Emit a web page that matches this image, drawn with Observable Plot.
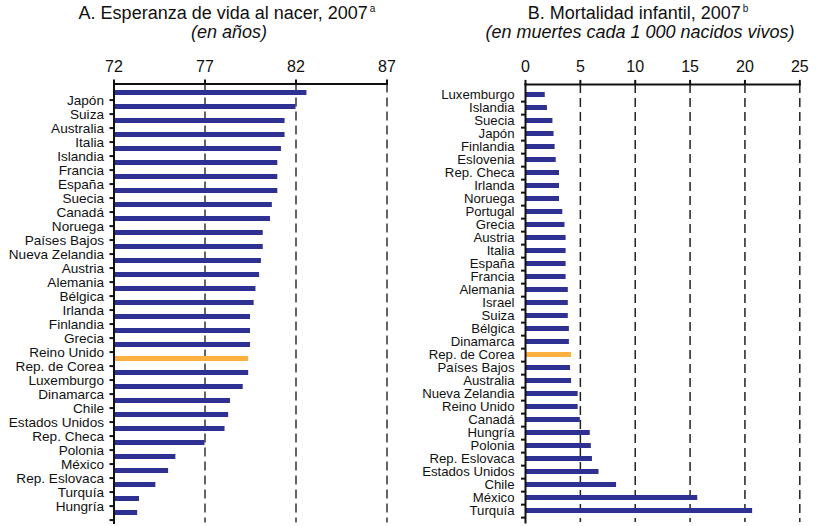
<!DOCTYPE html>
<html><head><meta charset="utf-8">
<script src="https://cdn.jsdelivr.net/npm/d3@7"></script>
<script src="https://cdn.jsdelivr.net/npm/@observablehq/plot@0.6"></script>
<style>
body{margin:0;background:#fff;font-family:"Liberation Sans",Arial,Helvetica,sans-serif;}
#root{position:relative;width:818px;height:526px;overflow:hidden;background:#fff;}
.t{position:absolute;width:420px;text-align:center;font-size:18px;line-height:18px;color:#111;white-space:nowrap;}
.t sup{font-size:10px;vertical-align:0;position:relative;top:-7px;margin-left:2px;}
.it{font-style:italic;}
.p{position:absolute;top:40px;}
</style></head><body>
<div id="root">
  <div class="t" style="left:17px;top:4px;">A. Esperanza de vida al nacer, 2007<sup>a</sup></div>
  <div class="t it" style="left:19px;top:23px;">(en años)</div>
  <div class="t" style="left:428px;top:4px;">B. Mortalidad infantil, 2007<sup>b</sup></div>
  <div class="t it" style="left:430px;top:23px;">(en muertes cada 1 000 nacidos vivos)</div>
  <div id="a1" class="p" style="left:0px;"></div>
  <div id="a2" class="p" style="left:0px;"></div>
  <div id="b1" class="p" style="left:410px;"></div>
</div>
<script>
// ---- Panel A: life expectancy at birth, 2007 (years) ----
// The reference draws 31 bars but prints only 30 country labels (labels are evenly spread).
const lifeLabels = ["Japón","Suiza","Australia","Italia","Islandia","Francia","España","Suecia","Canadá","Noruega","Países Bajos","Nueva Zelandia","Austria","Alemania","Bélgica","Irlanda","Finlandia","Grecia","Reino Unido","Rep. de Corea","Luxemburgo","Dinamarca","Chile","Estados Unidos","Rep. Checa","Polonia","México","Rep. Eslovaca","Turquía","Hungría"];
const lifeValues = [82.6,82.0,81.4,81.4,81.2,81.0,81.0,81.0,80.7,80.6,80.2,80.2,80.1,80.0,79.8,79.7,79.5,79.5,79.5,79.4,79.4,79.1,78.4,78.3,78.1,77.0,75.4,75.0,74.3,73.4,73.3];
const lifeHighlight = [19];
const lifeTicks = [72,77,82,87];

// ---- Panel B: infant mortality, 2007 (deaths per 1 000 live births) ----
const mortCountries = ["Luxemburgo","Islandia","Suecia","Japón","Finlandia","Eslovenia","Rep. Checa","Irlanda","Noruega","Portugal","Grecia","Austria","Italia","España","Francia","Alemania","Israel","Suiza","Bélgica","Dinamarca","Rep. de Corea","Países Bajos","Australia","Nueva Zelandia","Reino Unido","Canadá","Hungría","Polonia","Rep. Eslovaca","Estados Unidos","Chile","México","Turquía"];
const mortValues = [1.8,2.0,2.5,2.6,2.7,2.8,3.1,3.1,3.1,3.4,3.6,3.7,3.7,3.7,3.7,3.9,3.9,3.9,4.0,4.0,4.2,4.1,4.2,4.8,4.8,5.0,5.9,6.0,6.1,6.7,8.3,15.7,20.7];
const mortHighlight = ["Rep. de Corea"];
const mortTicks = [0,5,10,15,20,25];

const navy = "#2e3192", orange = "#fbb040";
const font = '"Liberation Sans", Arial, Helvetica, sans-serif';
const baseStyle = {fontFamily: font, color: "#111", background: "transparent", overflow: "visible"};

// Panel A geometry
const A = {width: 400, height: 486, marginTop: 43.5, marginBottom: 3.4, marginLeft: 113.5, marginRight: 13.5};
const lifeData = lifeValues.map((v, i) => ({i, value: v, fill: lifeHighlight.includes(i) ? orange : navy}));
const stepA = (A.height - A.marginTop - A.marginBottom) / lifeValues.length;

const plotA = Plot.plot({
  ...A,
  style: {...baseStyle, fontSize: "16px"},
  x: {domain: [72, 87], axis: null},
  y: {domain: d3.range(lifeValues.length), paddingInner: 0.62, paddingOuter: 0.31, axis: null},
  color: {type: "identity"},
  marks: [
    Plot.ruleX(lifeTicks.slice(1), {stroke: "#333", strokeWidth: 1.5, strokeDasharray: "9,5"}),
    Plot.barX(lifeData, {x1: 72, x2: "value", y: "i", fill: "fill"}),
    Plot.axisY({anchor: "left", label: null, tickSize: 4, tickFormat: () => "", dy: stepA / 2, strokeWidth: 2, stroke: "#111"}),
    Plot.axisX({anchor: "top", label: null, ticks: lifeTicks, tickSize: 5, tickPadding: 7, fontSize: 16, strokeWidth: 2, stroke: "#111"}),
    Plot.frame({anchor: "top", strokeWidth: 2, stroke: "#111"}),
    Plot.frame({anchor: "left", strokeWidth: 2, stroke: "#111"})
  ]
});
document.getElementById("a1").appendChild(plotA);

const plotALabels = Plot.plot({
  ...A,
  style: {...baseStyle, fontSize: "13.6px"},
  y: {domain: lifeLabels, paddingInner: 0.62, paddingOuter: 0.31, axis: null},
  marks: [
    Plot.axisY({anchor: "left", label: null, tickSize: 0, tickPadding: 10, fontSize: 13.6})
  ]
});
document.getElementById("a2").appendChild(plotALabels);

// Panel B
const B = {width: 408, height: 486, marginTop: 43.9, marginBottom: 4, marginLeft: 115, marginRight: 18.7};
const mortData = mortCountries.map((c, i) => ({country: c, value: mortValues[i], fill: mortHighlight.includes(c) ? orange : navy}));
const stepB = (B.height - B.marginTop - B.marginBottom) / mortCountries.length;

const plotB = Plot.plot({
  ...B,
  style: {...baseStyle, fontSize: "16px"},
  x: {domain: [0, 25], axis: null},
  y: {domain: mortCountries, paddingInner: 0.62, paddingOuter: 0.31, axis: null},
  color: {type: "identity"},
  marks: [
    Plot.ruleX(mortTicks.slice(1), {stroke: "#222", strokeWidth: 1.5, strokeDasharray: "9,5"}),
    Plot.barX(mortData, {x1: 0, x2: "value", y: "country", fill: "fill"}),
    Plot.axisY({anchor: "left", label: null, tickSize: 4, tickFormat: () => "", dy: stepB / 2, strokeWidth: 2, stroke: "#111"}),
    Plot.axisY({anchor: "left", label: null, tickSize: 0, tickPadding: 11, fontSize: 13.2}),
    Plot.axisX({anchor: "top", label: null, ticks: mortTicks, tickSize: 5, tickPadding: 7, fontSize: 16, strokeWidth: 2, stroke: "#111"}),
    Plot.frame({anchor: "top", strokeWidth: 2, stroke: "#111"}),
    Plot.frame({anchor: "left", strokeWidth: 2, stroke: "#111"})
  ]
});
document.getElementById("b1").appendChild(plotB);
</script>
</body></html>
